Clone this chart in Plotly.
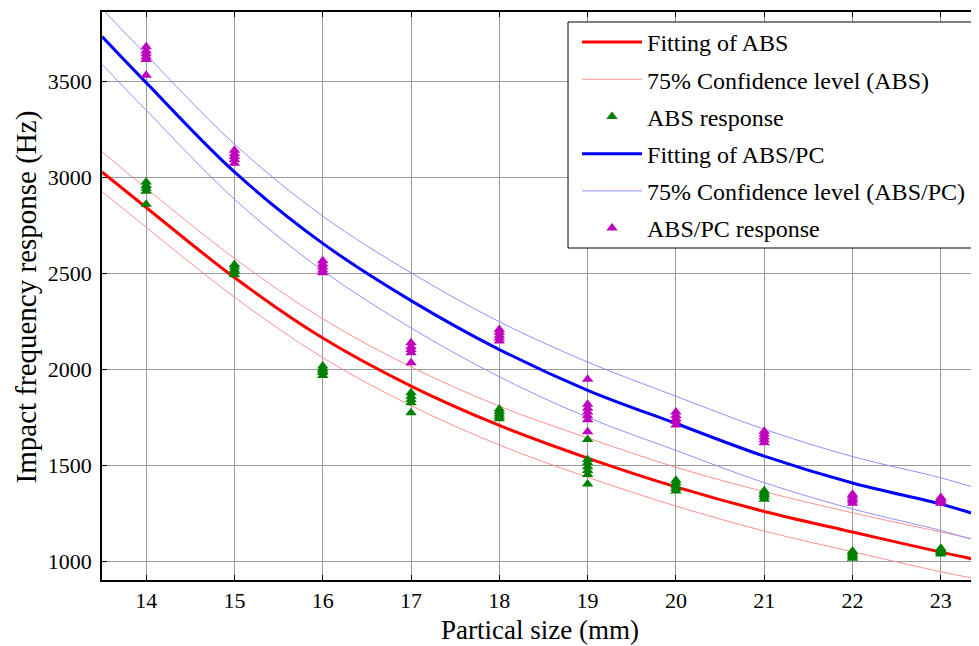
import plotly.graph_objects as go

# ---- data ----
sizes = [14, 15, 16, 17, 18, 19, 20, 21, 22, 23]

abs_resp = [
    [2862, 2930, 2945, 2960, 2978],
    [2495, 2510, 2520, 2535, 2548],
    [1970, 1985, 1995, 2005, 2020],
    [1776, 1828, 1845, 1862, 1880],
    [1745, 1758, 1770, 1782, 1795],
    [1405, 1455, 1475, 1495, 1515, 1533, 1637],
    [1368, 1382, 1395, 1410, 1425],
    [1325, 1338, 1350, 1360, 1370],
    [1018, 1028, 1038, 1048, 1056],
    [1040, 1048, 1055, 1062, 1070],
]

abspc_resp = [
    [3533, 3615, 3630, 3645, 3660, 3682],
    [3075, 3095, 3110, 3125, 3143],
    [2505, 2520, 2535, 2550, 2568],
    [2036, 2088, 2105, 2120, 2140],
    [2150, 2165, 2180, 2195, 2210],
    [1677, 1740, 1760, 1780, 1800, 1820, 1950],
    [1712, 1730, 1745, 1762, 1780],
    [1620, 1635, 1650, 1665, 1680],
    [1305, 1318, 1330, 1342, 1352],
    [1305, 1312, 1320, 1328, 1335],
]

fit_x = [13.5, 14, 15, 16, 17, 18, 19, 20, 21, 22, 23, 23.41]
abs_fit = [3030, 2845, 2480, 2165, 1915, 1710, 1540, 1390, 1262, 1155, 1050, 1010]
abs_upper = [3135, 2945, 2580, 2265, 2015, 1810, 1645, 1492, 1365, 1255, 1155, 1115]
abs_lower = [2928, 2742, 2378, 2063, 1813, 1608, 1440, 1290, 1160, 1052, 948, 910]
abspc_fit = [3735, 3495, 3030, 2658, 2360, 2105, 1893, 1720, 1550, 1410, 1300, 1245]
abspc_upper = [3880, 3640, 3175, 2800, 2505, 2250, 2040, 1862, 1690, 1548, 1437, 1382]
abspc_lower = [3590, 3352, 2888, 2516, 2218, 1963, 1752, 1580, 1412, 1275, 1163, 1108]

x_ticks = [14, 15, 16, 17, 18, 19, 20, 21, 22, 23]
y_ticks = [1000, 1500, 2000, 2500, 3000, 3500]

x_title = "Partical size (mm)"
y_title = "Impact frequency response (Hz)"

FONT = "Liberation Serif"
RED, RED_L = "#FF0000", "#FF9090"
BLUE, BLUE_L = "#0000FF", "#9090FF"
GREEN, MAGENTA = "#008000", "#BF00BF"


def flatten(groups):
    xs, ys = [], []
    for s, vals in zip(sizes, groups):
        for v in vals:
            xs.append(s)
            ys.append(v)
    return xs, ys


abs_x, abs_y = flatten(abs_resp)
pc_x, pc_y = flatten(abspc_resp)

fig = go.Figure()

fig.add_trace(go.Scatter(x=fit_x, y=abs_fit, mode="lines", line=dict(color=RED, width=3, shape="spline"),
                         name="Fitting of ABS", legendgroup="g1"))
fig.add_trace(go.Scatter(x=fit_x, y=abs_upper, mode="lines", line=dict(color=RED_L, width=1, shape="spline"),
                         name="75% Confidence level (ABS)", legendgroup="g2"))
fig.add_trace(go.Scatter(x=fit_x, y=abs_lower, mode="lines", line=dict(color=RED_L, width=1, shape="spline"),
                         name="75% Confidence level (ABS)", legendgroup="g2", showlegend=False))
fig.add_trace(go.Scatter(x=abs_x, y=abs_y, mode="markers",
                         marker=dict(symbol="triangle-up", color=GREEN, size=10),
                         name="ABS response", legendgroup="g3"))
fig.add_trace(go.Scatter(x=fit_x, y=abspc_fit, mode="lines", line=dict(color=BLUE, width=3, shape="spline"),
                         name="Fitting of ABS/PC", legendgroup="g4"))
fig.add_trace(go.Scatter(x=fit_x, y=abspc_upper, mode="lines", line=dict(color=BLUE_L, width=1, shape="spline"),
                         name="75% Confidence level (ABS/PC)", legendgroup="g5"))
fig.add_trace(go.Scatter(x=fit_x, y=abspc_lower, mode="lines", line=dict(color=BLUE_L, width=1, shape="spline"),
                         name="75% Confidence level (ABS/PC)", legendgroup="g5", showlegend=False))
fig.add_trace(go.Scatter(x=pc_x, y=pc_y, mode="markers",
                         marker=dict(symbol="triangle-up", color=MAGENTA, size=10),
                         name="ABS/PC response", legendgroup="g6"))

axis_common = dict(
    showline=True, linecolor="black", linewidth=1.5, mirror="ticks",
    ticks="inside", ticklen=5, tickcolor="black",
    showgrid=True, gridcolor="#9a9a9a", gridwidth=1,
    zeroline=False, automargin=False,
    tickfont=dict(family=FONT, size=22, color="black"),
)

fig.update_xaxes(range=[13.5, 23.41], tickvals=x_ticks, ticklabelstandoff=0, **axis_common)
fig.update_yaxes(range=[905, 3863], tickvals=y_ticks, ticklabelstandoff=4, **axis_common)

# axis titles as annotations for exact placement
fig.add_annotation(text=x_title, xref="paper", yref="paper", x=0.5, y=-0.088,
                   xanchor="center", yanchor="middle", showarrow=False,
                   font=dict(family=FONT, size=27, color="black"))
fig.add_annotation(text=y_title, xref="paper", yref="paper", x=-0.0865, y=0.498,
                   xanchor="center", yanchor="middle", showarrow=False, textangle=-90,
                   font=dict(family=FONT, size=29, color="black"))

# legend frame (white box with black border) drawn as a shape under the legend text
fig.add_shape(type="rect", xref="paper", yref="paper", x0=0.5326, x1=1.0, y0=0.5845, y1=0.9824,
              line=dict(color="black", width=1), fillcolor="white", layer="above")

# the page body has an 8px margin, so the figure is shrunk and margins reduced by 8
fig.update_layout(
    width=971, height=638,
    margin=dict(l=94, r=2, t=4, b=66),
    plot_bgcolor="white", paper_bgcolor="white",
    font=dict(family=FONT, size=20, color="black"),
    legend=dict(x=0.5429, y=0.986, xanchor="left", yanchor="top",
                bgcolor="rgba(0,0,0,0)", borderwidth=0,
                font=dict(family=FONT, size=24, color="black"),
                tracegroupgap=3, itemwidth=60),
)

fig.write_html("out.html")
